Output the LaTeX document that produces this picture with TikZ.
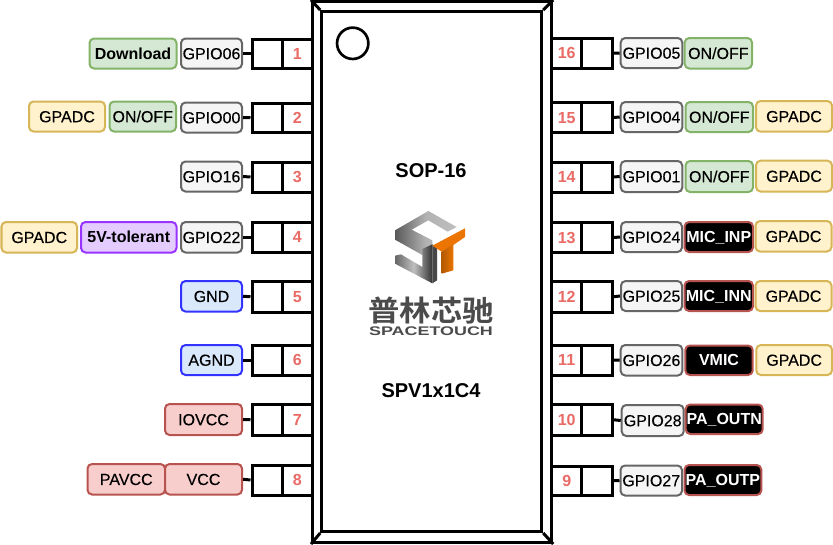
\documentclass[tikz,border=0pt]{standalone}
\usepackage{fontspec}
\setmainfont{Liberation Sans}
\newfontfamily\labfont[FakeBold=0.25]{Liberation Sans}
\newfontfamily\cjkb{Noto Sans CJK SC Bold}
\begin{document}
\begin{tikzpicture}[x=0.75pt,y=-0.75pt,
  lab/.style={rounded corners=3.4pt,line width=1.5pt,inner sep=0pt,font=\labfont\fontsize{12pt}{14pt}\selectfont,text height=8.6pt,text depth=0pt},
  gpio/.style={lab,draw=black!60,fill=black!4},
  green/.style={lab,draw={rgb,255:red,130;green,179;blue,102},fill={rgb,255:red,213;green,232;blue,212}},
  yel/.style={lab,draw={rgb,255:red,214;green,182;blue,86},fill={rgb,255:red,255;green,242;blue,204}},
  pur/.style={lab,draw={rgb,255:red,153;green,51;blue,255},fill={rgb,255:red,229;green,204;blue,255},font=\fontsize{12pt}{14pt}\selectfont\bfseries},
  blu/.style={lab,draw={rgb,255:red,51;green,51;blue,255},fill={rgb,255:red,218;green,232;blue,252}},
  redb/.style={lab,draw={rgb,255:red,184;green,84;blue,80},fill={rgb,255:red,248;green,206;blue,204}},
  blk/.style={lab,draw={rgb,255:red,184;green,84;blue,80},fill=black,text=white,font=\fontsize{12pt}{14pt}\selectfont\bfseries},
  pinbox/.style={draw,line width=2.25pt,inner sep=0pt,fill=white},
  pinnum/.style={pinbox,text={rgb,255:red,234;green,107;blue,102},font=\fontsize{12pt}{14pt}\selectfont\bfseries,text height=8.6pt,text depth=0pt},
  stub/.style={line width=2.25pt},
  chipline/.style={draw,line width=2.25pt,inner sep=0pt},
  chiptext/.style={font=\fontsize{15pt}{17pt}\selectfont\bfseries,inner sep=0pt}]
\newcommand\bx[7]{%
  \pgfmathsetmacro\bw{(#5-#3)*0.75}%
  \pgfmathsetmacro\bh{(#6-#4)*0.75}%
  \node[#2,minimum width=\bw pt,minimum height=\bh pt] (#1) at ({(#3+#5)/2},{(#4+#6)/2}) {#7};}
\useasboundingbox (0,0) rectangle (833,544);
\fill[white] (0,0) rectangle (833,544);
% chip
\bx{chip}{chipline,fill=white}{312.5}{1.5}{551.7}{542.5}{}
\bx{core}{chipline}{321.7}{11.5}{541.7}{531.5}{}
\draw[line width=2.25pt] (chip.north west) -- (core.north west);
\draw[line width=2.25pt] (chip.south east) -- (core.south east);
\draw[line width=2.25pt] (chip.north east) -- (core.north east);
\draw[line width=2.25pt] (chip.south west) -- (core.south west);
\node[draw,circle,line width=2pt,minimum size=23.5pt,inner sep=0pt] (dot) at (352.7,43.3) {};
\node[chiptext] (pkg) at (431,171) {SOP-16};
\node[chiptext] (part) at (431,391) {SPV1x1C4};
% logo
\begin{scope}[shift={(385,205)},x=0.25pt,y=-0.25pt]
  \shade[left color=black!65,right color=black!25,middle color=black!30]
    (30,76) -- (130,18) -- (215,66) -- (188,80) -- (130,46) -- (80,74) -- (142,106) -- (142,135) -- (112,150) -- (30,104) -- cycle;
  \shade[left color=black!60,right color=black!80,middle color=black!25]
    (30,152) -- (48,148) -- (112,186) -- (112,132) -- (142,118) -- (142,235) -- (30,176) -- cycle;
  \fill[black!72] (142,118) -- (156,126) -- (156,226) -- (142,235) -- cycle;
  \fill[orange!92!black] (240,70) -- (142,122) -- (170,140) -- (205,120) -- (240,96) -- cycle;
  \shade[left color=orange!70!black,right color=orange!92!black]
    (170,140) -- (205,118) -- (205,196) -- (170,206) -- cycle;
\end{scope}
\node[inner sep=0pt,text={rgb,255:red,75;green,75;blue,75},font=\cjkb\fontsize{23.5pt}{25pt}\selectfont,yscale=0.92] (cn) at (431,310.5) {普林芯驰};
\node[inner sep=0pt,text={rgb,255:red,75;green,75;blue,75},font=\fontsize{9.4pt}{10pt}\selectfont\bfseries,xscale=1.43] (en) at (431,331) {SPACETOUCH};
% pins
\newcommand\lpin[4]{%
  \bx{a#1}{pinbox}{252}{#2}{282.5}{#3}{}
  \bx{n#1}{pinnum}{282.5}{#2}{312}{#3}{#1}
  \draw[stub] (a#1.west) -- (#4.east);}
\newcommand\rpin[4]{%
  \bx{a#1}{pinbox}{581.7}{#2}{612}{#3}{}
  \bx{n#1}{pinnum}{551.7}{#2}{581.7}{#3}{#1}
  \draw[stub] (a#1.east) -- (#4.west);}
% left labels
\bx{dl}{green,font=\fontsize{12pt}{14pt}\selectfont\bfseries}{89.5}{38.5}{176.5}{68.5}{Download}
\bx{g06}{gpio}{181}{38.5}{242}{68.5}{GPIO06}
\lpin{1}{39}{68}{g06}
\bx{ad2}{yel}{29}{101.5}{105}{131.5}{GPADC}
\bx{io2}{green}{109.5}{101.5}{176}{131.5}{ON/OFF}
\bx{g00}{gpio}{181}{102.5}{242}{132.5}{GPIO00}
\lpin{2}{103}{132.5}{g00}
\bx{g16}{gpio}{181}{161.5}{242}{191.5}{GPIO16}
\lpin{3}{162}{192}{g16}
\bx{ad4}{yel}{1.5}{222}{77}{252.5}{GPADC}
\bx{tol}{pur}{81}{222}{176.5}{252.5}{5V-tolerant}
\bx{g22}{gpio}{181}{222}{242}{252.5}{GPIO22}
\lpin{4}{222}{252.5}{g22}
\bx{gnd}{blu}{181}{281}{242}{311.5}{GND}
\lpin{5}{281.5}{312}{gnd}
\bx{agnd}{blu}{181}{345}{242}{375}{AGND}
\lpin{6}{345}{375}{agnd}
\bx{iov}{redb}{165}{404}{242}{435}{IOVCC}
\lpin{7}{404.5}{435}{iov}
\bx{pav}{redb}{87.5}{464}{165}{494.5}{PAVCC}
\bx{vcc}{redb}{165}{464}{242}{494.5}{VCC}
\lpin{8}{465}{495}{vcc}
% right labels
\bx{g05}{gpio}{620.7}{38}{682.3}{68}{GPIO05}
\bx{io16}{green}{684.7}{38}{752}{68.5}{ON/OFF}
\rpin{16}{38.5}{68}{g05}
\bx{g04}{gpio}{620.7}{102}{682.3}{132}{GPIO04}
\bx{io15}{green}{685.5}{102}{753}{132}{ON/OFF}
\bx{ad15}{yel}{756}{101}{832}{131.7}{GPADC}
\rpin{15}{102.5}{132.5}{g04}
\bx{g01}{gpio}{620.7}{161}{682.3}{192}{GPIO01}
\bx{io14}{green}{685.5}{161}{753}{192}{ON/OFF}
\bx{ad14}{yel}{756}{160.7}{832}{191.5}{GPADC}
\rpin{14}{162}{192}{g01}
\bx{g24}{gpio}{621}{222}{682}{252}{GPIO24}
\bx{mip}{blk}{684.5}{222}{753}{252}{MIC\_INP}
\bx{ad13}{yel}{755.5}{221}{831.5}{251.5}{GPADC}
\rpin{13}{222.5}{252.5}{g24}
\bx{g25}{gpio}{621}{281}{682}{311}{GPIO25}
\bx{min}{blk}{684.5}{281}{753}{311}{MIC\_INN}
\bx{ad12}{yel}{755.5}{281}{831.5}{311}{GPADC}
\rpin{12}{281.5}{312}{g25}
\bx{g26}{gpio}{620.7}{345}{682.3}{375.5}{GPIO26}
\bx{vm}{blk}{685.3}{345.5}{752.7}{375}{VMIC}
\bx{ad11}{yel}{756.3}{345}{832}{375}{GPADC}
\rpin{11}{345}{375}{g26}
\bx{g28}{gpio}{621.7}{405}{683.7}{436}{GPIO28}
\bx{pn}{blk}{685.7}{404.5}{762.7}{434}{PA\_OUTN}
\rpin{10}{404.5}{435}{g28}
\bx{g27}{gpio}{620.5}{465.5}{682}{495.5}{GPIO27}
\bx{pp}{blk}{684.5}{465}{761.3}{495}{PA\_OUTP}
\rpin{9}{466}{495.5}{g27}
\end{tikzpicture}
\end{document}
